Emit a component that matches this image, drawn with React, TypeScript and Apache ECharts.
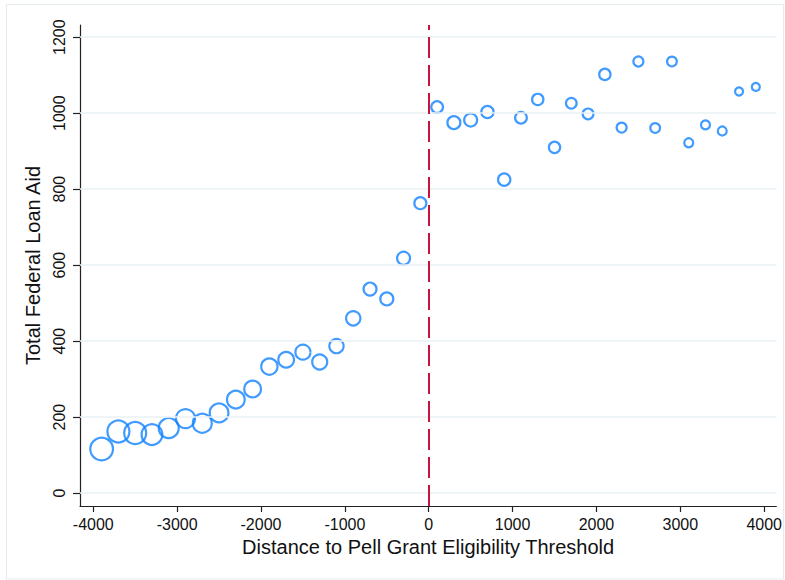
import React, { useEffect, useRef } from "react";
import * as echarts from "echarts";

// Bin centres (distance to threshold)
const xLeft = [-3900, -3700, -3500, -3300, -3100, -2900, -2700, -2500, -2300, -2100, -1900, -1700, -1500, -1300, -1100, -900, -700, -500, -300, -100];
const xRight = [100, 300, 500, 700, 900, 1100, 1300, 1500, 1700, 1900, 2100, 2300, 2500, 2700, 2900, 3100, 3300, 3500, 3700, 3900];
// Mean total federal loan aid per bin
const yLeft = [116, 162, 158, 154, 171, 196, 184, 211, 246, 274, 333, 351, 371, 345, 387, 460, 537, 511, 618, 763];
const yRight = [1016, 975, 982, 1003, 825, 988, 1036, 910, 1026, 998, 1102, 962, 1136, 961, 1136, 922, 969, 953, 1057, 1069];
// Relative bin weights (marker area)
const wLeft = [515, 484, 484, 428, 400, 361, 361, 350, 313, 279, 266, 246, 225, 225, 204, 204, 169, 169, 169, 144];
const wRight = [137, 169, 169, 151, 151, 137, 128, 128, 114, 114, 128, 100, 100, 94, 94, 81, 81, 81, 64, 64];

const xTicks = [-4000, -3000, -2000, -1000, 0, 1000, 2000, 3000, 4000];
const yTicks = [0, 200, 400, 600, 800, 1000, 1200];
const threshold = 0;

const FONT = "Liberation Sans, Arial, Helvetica, sans-serif";
const BLUE = "#1282ff";
const RED = "#c8143c";

export default function App() {
  const ref = useRef<HTMLDivElement>(null);
  useEffect(() => {
    if (!ref.current) return;
    const chart = echarts.init(ref.current, null, { renderer: "svg" });
    const pts = [
      ...xLeft.map((x, i) => [x, yLeft[i], wLeft[i]]),
      ...xRight.map((x, i) => [x, yRight[i], wRight[i]]),
    ];
    const fmt = (v: number) => String(v);
    chart.setOption({
      animation: false,
      backgroundColor: "#ffffff",
      textStyle: { fontFamily: FONT },
      grid: { left: 80, right: 7, top: 25, bottom: 74, containLabel: false },
      graphic: [
        {
          type: "rect",
          shape: { x: 6.5, y: 4.5, width: 777, height: 574.5 },
          style: { fill: "none", stroke: "#e4ecf0", lineWidth: 1 },
          silent: true,
          z: -10,
        },
      ],
      xAxis: {
        type: "value",
        min: -4158,
        max: 4144,
        name: "Distance to Pell Grant Eligibility Threshold",
        nameLocation: "middle",
        nameGap: 28,
        nameTextStyle: { fontSize: 20, color: "#111", fontFamily: FONT },
        axisLine: { show: true, onZero: false, lineStyle: { color: "#222", width: 1.2 } },
        axisTick: { show: true, inside: false, length: 6, customValues: xTicks, lineStyle: { color: "#222", width: 1.2 } },
        axisLabel: { show: true, customValues: xTicks, formatter: fmt, margin: 10, fontSize: 16, color: "#111", fontFamily: FONT },
        splitLine: { show: false },
      },
      yAxis: {
        type: "value",
        min: -34,
        max: 1232,
        name: "Total Federal Loan Aid",
        nameLocation: "middle",
        nameRotate: 90,
        nameGap: 26,
        nameTextStyle: { fontSize: 20, color: "#111", fontFamily: FONT },
        axisLine: { show: true, onZero: false, lineStyle: { color: "#222", width: 1.2 } },
        axisTick: { show: true, inside: false, length: 7, customValues: yTicks, lineStyle: { color: "#222", width: 1.2 } },
        axisLabel: { show: true, customValues: yTicks, formatter: fmt, rotate: 90, margin: 13, fontSize: 16, color: "#111", fontFamily: FONT },
        splitLine: { show: false },
      },
      series: [
        {
          type: "line",
          data: [],
          silent: true,
          z: 1,
          markLine: {
            silent: true,
            symbol: ["none", "none"],
            label: { show: false },
            lineStyle: { color: "#eaf1f3", width: 1.5, type: "solid" },
            data: yTicks.map((v) => ({ yAxis: v })),
          },
        },
        {
          type: "scatter",
          data: pts,
          z: 3,
          symbol: "circle",
          symbolSize: (d: number[]) => Math.sqrt(d[2]),
          itemStyle: { color: "rgba(0,0,0,0)", borderColor: BLUE, borderWidth: 2.2 },
        },
        {
          type: "line",
          data: [],
          silent: true,
          z: 2,
          markLine: {
            silent: true,
            symbol: ["none", "none"],
            label: { show: false },
            lineStyle: { color: RED, width: 2, type: [21, 7] },
            data: [{ xAxis: threshold }],
          },
        },
      ],
    });
    return () => chart.dispose();
  }, []);
  return (
    <div
      ref={ref}
      style={{ position: "fixed", left: 0, top: 0, width: 785, height: 580, background: "#fff" }}
    />
  );
}
